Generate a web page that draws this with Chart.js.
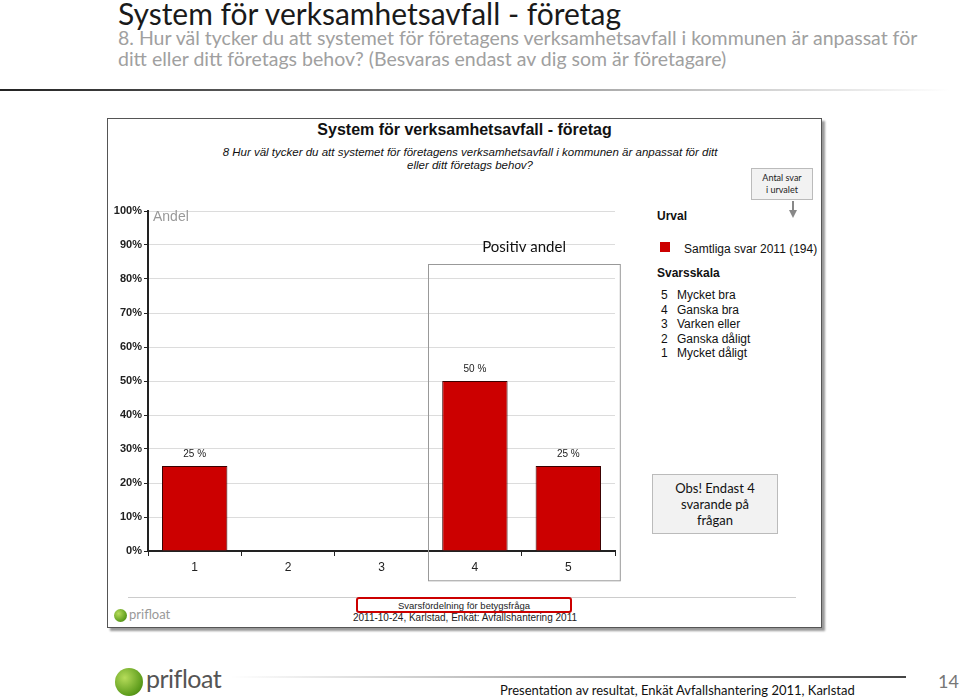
<!DOCTYPE html>
<html>
<head>
<meta charset="utf-8">
<script src="https://cdn.jsdelivr.net/npm/chart.js@4/dist/chart.umd.min.js"></script>
<style>
  html, body { margin: 0; padding: 0; background: #fff; }
  body { width: 960px; height: 700px; position: relative; overflow: hidden; font-family: "Liberation Sans", Arial, sans-serif; }
  .abs { position: absolute; }
  #title { left: 118px; top: -5px; font-family: Lato, "DejaVu Sans", sans-serif; font-size: 30px; color: #1a1a1a; white-space: nowrap; }
  #sub { left: 118px; top: 27px; font-family: Lato, "DejaVu Sans", sans-serif; font-size: 19.5px; color: #a0a0a0; line-height: 21px; white-space: nowrap; }
  #topline { left: 0; top: 89px; width: 950px; height: 2px; background: linear-gradient(to right, #222 0%, #777 40%, #ddd 85%, #fff 100%); }
  #box { left: 107px; top: 118px; width: 713px; height: 508px; border: 1px solid #555; box-shadow: 3px 3px 2px #999; background: #fff; }
  #ctitle { left: 107px; width: 715px; top: 121px; text-align: center; font-weight: bold; font-size: 16px; color: #111; }
  #csub { left: 160px; width: 620px; top: 146px; text-align: center; font-style: italic; font-size: 11.5px; line-height: 12.5px; color: #111; white-space: nowrap; }
  #canvasWrap { left: 100px; top: 195px; width: 530px; height: 395px; }
  #andel { left: 153px; top: 208px; font-size: 14px; color: #999; }
  #scale { left: 657px; top: 266px; }
  .leg { font-size: 12px; color: #111; white-space: nowrap; }
  .legb { font-size: 12px; font-weight: bold; color: #111; }
  #antal { left: 751px; top: 168px; width: 62px; height: 32px; background: #f2f2f2; border: 1px solid #bbb; font-family: Lato, "Open Sans", sans-serif; font-size: 9px; text-align: center; line-height: 12px; padding-top: 3px; box-sizing: border-box; color: #222; }
  #arrow { left: 792px; top: 201px; width: 2px; height: 10px; background: #888; }
  #arrowhead { left: 789px; top: 210px; width: 0; height: 0; border-left: 4px solid transparent; border-right: 4px solid transparent; border-top: 8px solid #888; }
  #obs { left: 652px; top: 474px; width: 126px; height: 60px; background: #f2f2f2; border: 1px solid #bbb; box-sizing: border-box; font-family: Lato, "Open Sans", sans-serif; font-size: 13px; line-height: 16px; text-align: center; padding-top: 5px; color: #111; }
  #bline { left: 128px; top: 597px; width: 668px; height: 1px; background: #ccc; }
  #redbox { left: 356px; top: 597px; width: 216px; height: 16px; border: 2px solid #c00; border-radius: 3px; box-sizing: border-box; }
  #bt1 { left: 356px; width: 216px; top: 600px; text-align: center; font-size: 9.5px; color: #222; }
  #bt2 { left: 300px; width: 330px; top: 612px; text-align: center; font-size: 10px; color: #222; }
  #footline { left: 230px; top: 676px; width: 676px; height: 2px; background: linear-gradient(to right, #fff 0%, #ccc 30%, #444 100%); }
  #foot { left: 500px; top: 682px; font-family: Lato, "Open Sans", sans-serif; font-size: 13px; color: #111; white-space: nowrap; }
  #page { left: 938px; top: 670px; font-family: Lato, "Open Sans", sans-serif; font-size: 18px; color: #777; }
  .logoDot { border-radius: 50%; background: radial-gradient(circle at 35% 35%, #b6dc5a, #5a9a1a 70%, #3c6e10); }
  .logoTxt { font-family: Lato, "Open Sans", sans-serif; color: #555; white-space: nowrap; }
</style>
</head>
<body>
<div class="abs" id="title">System för verksamhetsavfall - företag</div>
<div class="abs" id="sub">8. Hur väl tycker du att systemet för företagens verksamhetsavfall i kommunen är anpassat för<br>ditt eller ditt företags behov? (Besvaras endast av dig som är företagare)</div>
<div class="abs" id="topline"></div>

<div class="abs" id="box"></div>
<div class="abs" id="ctitle">System för verksamhetsavfall - företag</div>
<div class="abs" id="csub">8 Hur väl tycker du att systemet för företagens verksamhetsavfall i kommunen är anpassat för ditt<br>eller ditt företags behov?</div>

<div class="abs" id="canvasWrap"><canvas id="BarChart" width="530" height="395"></canvas></div>
<div class="abs" id="andel">Andel</div>

<div class="abs" id="antal">Antal svar<br>i urvalet</div>
<div class="abs" id="arrow"></div>
<div class="abs" id="arrowhead"></div>

<div class="abs legb" style="left:657px;top:209px;">Urval</div>
<div class="abs" style="left:660px;top:242px;width:10px;height:10px;background:#cc0000;"></div>
<div class="abs leg" style="left:684px;top:242px;">Samtliga svar 2011 (194)</div>
<div class="abs legb" style="left:657px;top:266px;">Svarsskala</div>
<div class="abs" id="scale"></div>

<div class="abs" id="obs">Obs! Endast 4<br>svarande på<br>frågan</div>

<div class="abs" id="bline"></div>
<div class="abs" id="redbox"></div>
<div class="abs" id="bt1">Svarsfördelning för betygsfråga</div>
<div class="abs" id="bt2">2011-10-24, Karlstad, Enkät: Avfallshantering 2011</div>
<div class="abs logoDot" style="left:114px;top:609px;width:13px;height:13px;"></div>
<div class="abs logoTxt" style="left:129px;top:606px;font-size:13px;color:#999;">prifloat</div>

<div class="abs logoDot" style="left:115px;top:668px;width:28px;height:28px;"></div>
<div class="abs logoTxt" style="left:146px;top:663px;font-size:25px;letter-spacing:-0.5px;">prifloat</div>
<div class="abs" id="footline"></div>
<div class="abs" id="foot">Presentation av resultat, Enkät Avfallshantering 2011, Karlstad</div>
<div class="abs" id="page">14</div>

<script>
const categories = ['1', '2', '3', '4', '5'];
const shares = [25, 0, 0, 50, 25];
const yTicks = [0, 10, 20, 30, 40, 50, 60, 70, 80, 90, 100];
const scaleNums = ['5', '4', '3', '2', '1'];
const scaleNames = ['Mycket bra', 'Ganska bra', 'Varken eller', 'Ganska dåligt', 'Mycket dåligt'];
const seriesLabel = 'Samtliga svar 2011 (194)';

// svarsskala list, relative to #scale
const scaleEl = document.getElementById('scale');
let html = '';
scaleNums.forEach((n, i) => {
    const top = 22 + i * 14.5;
    html += '<div class="abs leg" style="left:4px;top:' + top + 'px;">' + n + '</div>' +
            '<div class="abs leg" style="left:20px;top:' + top + 'px;">' + scaleNames[i] + '</div>';
});
scaleEl.innerHTML = html;

const valueLabels = {
    id: 'valueLabels',
    afterDatasetsDraw(chart) {
        const ctx = chart.ctx;
        const meta = chart.getDatasetMeta(0);
        ctx.save();
        ctx.font = '10px "Liberation Sans", Arial, sans-serif';
        ctx.fillStyle = '#222';
        ctx.textAlign = 'center';
        ctx.textBaseline = 'bottom';
        meta.data.forEach((bar, i) => {
            if (shares[i] > 0) ctx.fillText(shares[i] + ' %', bar.x, bar.y - 7);
        });
        ctx.restore();
    }
};

const positivBox = {
    id: 'positivBox',
    afterDraw(chart) {
        const ctx = chart.ctx;
        const x = chart.scales.x, y = chart.scales.y;
        const left = (x.getPixelForValue(2) + x.getPixelForValue(3)) / 2;
        const right = chart.chartArea.right + 5;
        const top = y.getPixelForValue(84.5);
        const bottom = chart.chartArea.bottom + 29;
        ctx.save();
        ctx.strokeStyle = '#999';
        ctx.lineWidth = 1;
        ctx.strokeRect(Math.round(left) + 0.5, Math.round(top) + 0.5, right - left, bottom - top);
        ctx.font = '15px Lato, "Open Sans", sans-serif';
        ctx.fillStyle = '#111';
        ctx.textAlign = 'center';
        ctx.textBaseline = 'middle';
        ctx.fillText('Positiv andel', (left + right) / 2, y.getPixelForValue(89.5));
        ctx.restore();
    }
};

const ctx = document.getElementById('BarChart').getContext('2d');
new Chart(ctx, {
    type: 'bar',
    data: {
        labels: categories,
        datasets: [{
            label: seriesLabel,
            data: shares,
            backgroundColor: '#cc0000',
            borderColor: '#3a0000',
            borderWidth: 1,
            categoryPercentage: 1,
            barPercentage: 0.7
        }]
    },
    plugins: [valueLabels, positivBox],
    options: {
        responsive: false,
        animation: false,
        layout: { padding: { top: 16, right: 15, left: 0, bottom: 0 } },
        plugins: { legend: { display: false }, tooltip: { enabled: false } },
        scales: {
            x: {
                afterFit(s) { s.height = 39; },
                grid: { display: true, drawOnChartArea: false, drawTicks: true, tickLength: 5, color: '#222', offset: true },
                border: { color: '#222', width: 2 },
                ticks: { color: '#222', font: { size: 12, family: '"Liberation Sans", Arial' }, padding: 4 }
            },
            y: {
                min: 0, max: 100,
                afterFit(s) { s.width = 48; },
                afterBuildTicks(s) { s.ticks = yTicks.map(v => ({ value: v })); },
                grid: { color: '#dcdcdc', tickLength: 4, tickColor: '#222' },
                border: { color: '#222', width: 2 },
                ticks: { color: '#222', font: { size: 11, family: '"Liberation Sans", Arial', weight: 'bold' }, padding: 2, callback: v => v + '%' }
            }
        }
    }
});
</script>
</body>
</html>
